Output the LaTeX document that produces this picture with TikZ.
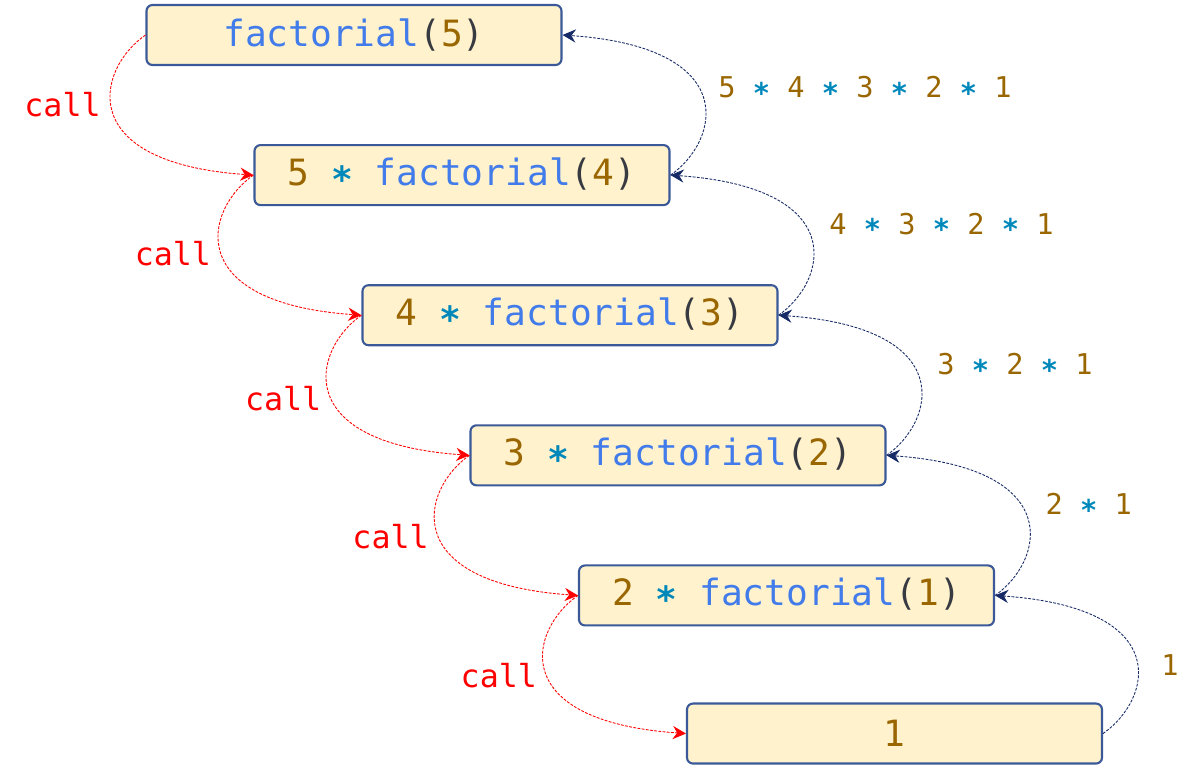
\documentclass[tikz,border=0pt]{standalone}
\usepackage{fontspec}
\setmonofont{DejaVu Sans Mono}
\usepackage{xcolor}
\usetikzlibrary{positioning, arrows.meta}
\definecolor{boxfill}{RGB}{255,242,204}
\definecolor{boxline}{RGB}{59,89,152}
\definecolor{fnblue}{RGB}{66,123,234}
\definecolor{numbrown}{RGB}{153,102,0}
\definecolor{opteal}{RGB}{0,136,187}
\definecolor{pargray}{RGB}{56,58,66}
\definecolor{retnavy}{RGB}{22,42,102}
\definecolor{callred}{RGB}{255,0,0}
\newcommand{\nmb}[1]{\textcolor{numbrown}{#1}}
\newcommand{\mul}{\textcolor{opteal}{\raisebox{-0.35ex}{\textbf{*}}}}
\newcommand{\fcall}[1]{\textcolor{fnblue}{factorial}\textcolor{pargray}{(}\nmb{#1}\textcolor{pargray}{)}}

\begin{document}
\begin{tikzpicture}[
  callbox/.style={draw=boxline, line width=1.2pt, fill=boxfill, rounded corners=3.4pt,
    minimum width=8.3cm, minimum height=1.2cm, inner sep=0pt,
    font=\ttfamily\fontsize{20.6}{24}\selectfont},
  callarrow/.style={callred, line width=0.5pt, dash pattern=on 1.6pt off 0.8pt,
    -{Stealth[length=7.5pt, width=7.5pt, inset=2.5pt]},
    out=215, in=176, out distance=1.2cm, in distance=3.6cm},
  retarrow/.style={retnavy, line width=0.5pt, dash pattern=on 1.6pt off 0.8pt,
    -{Stealth[length=7.5pt, width=7.5pt, inset=2.5pt]},
    out=35, in=356, out distance=1.2cm, in distance=3.6cm},
  calltext/.style={text=callred, inner sep=3pt, xshift=-0.1cm, font=\ttfamily\fontsize{18}{20}\selectfont},
  rettext/.style={inner sep=3pt, xshift=0.37cm, font=\ttfamily\fontsize{16.3}{18}\selectfont}
]
\useasboundingbox (0,0) rectangle (23.94,-15.54);
%boxes
\node[callbox] (f5) at (7.08,-0.70) {\fcall{5}};
\node[callbox, below=1.56cm of f5, xshift=2.16cm] (f4) {\nmb{5} \mul{} \fcall{4}};
\node[callbox, below=1.56cm of f4, xshift=2.16cm] (f3) {\nmb{4} \mul{} \fcall{3}};
\node[callbox, below=1.56cm of f3, xshift=2.16cm] (f2) {\nmb{3} \mul{} \fcall{2}};
\node[callbox, below=1.56cm of f2, xshift=2.17cm] (f1) {\nmb{2} \mul{} \fcall{1}};
\node[callbox, below=1.52cm of f1, xshift=2.16cm] (one) {\nmb{1}};
%calls
\draw[callarrow] (f5.west) to node[calltext, pos=0.45, left] {call} (f4.west);
\draw[callarrow] (f4.west) to node[calltext, pos=0.5, left] {call} (f3.west);
\draw[callarrow] (f3.west) to node[calltext, pos=0.53, left] {call} (f2.west);
\draw[callarrow] (f2.west) to node[calltext, pos=0.52, left] {call} (f1.west);
\draw[callarrow] (f1.west) to node[calltext, pos=0.52, left] {call} (one.west);
%returns
\draw[retarrow] (f4.east) to node[rettext, pos=0.54, right, xshift=-0.1cm] {\nmb{5} \mul{} \nmb{4} \mul{} \nmb{3} \mul{} \nmb{2} \mul{} \nmb{1}} (f5.east);
\draw[retarrow] (f3.east) to node[rettext, pos=0.56, right] {\nmb{4} \mul{} \nmb{3} \mul{} \nmb{2} \mul{} \nmb{1}} (f4.east);
\draw[retarrow] (f2.east) to node[rettext, pos=0.56, right] {\nmb{3} \mul{} \nmb{2} \mul{} \nmb{1}} (f3.east);
\draw[retarrow] (f1.east) to node[rettext, pos=0.56, right] {\nmb{2} \mul{} \nmb{1}} (f2.east);
\draw[retarrow] (one.east) to node[rettext, pos=0.45, right] {\nmb{1}} (f1.east);
\end{tikzpicture}
\end{document}
